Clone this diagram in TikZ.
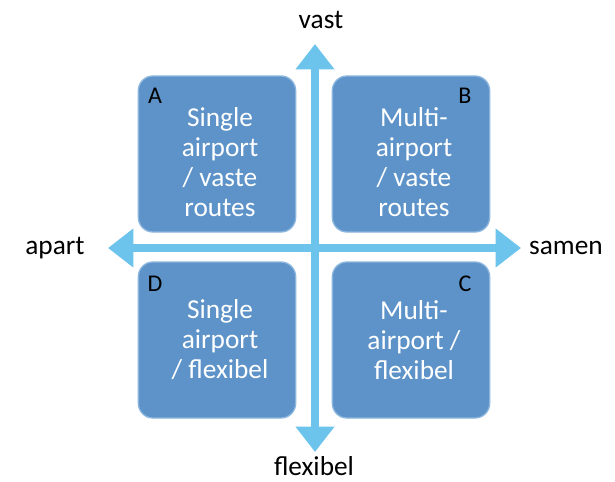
\documentclass[tikz,border=0pt]{standalone}
\usepackage{fontspec}
\setmainfont{Carlito}
\usetikzlibrary{arrows.meta}

\definecolor{boxblue}{HTML}{5D93C8}
\definecolor{boxedge}{HTML}{8CB6DE}
\definecolor{axisblue}{HTML}{6CC3EC}

\tikzset{
	quad/.style={draw=boxedge, line width=1pt, fill=boxblue, rounded corners=11pt,
		minimum width=118pt, minimum height=117pt, inner sep=0pt},
	quadtext/.style={text=white, align=center, font=\fontsize{20.5}{22.5}\selectfont},
	corner/.style={text=black, font=\fontsize{18}{20}\selectfont},
	axislabel/.style={text=black, font=\fontsize{20.5}{22.5}\selectfont},
	axis/.style={axisblue, line width=6pt, -{Triangle[width=28pt,length=19pt]}}
}

\begin{document}
\begin{tikzpicture}[x=0.75pt,y=-0.75pt]
	\useasboundingbox (0,0) rectangle (615,482);
	% the four boxes
	\node[quad] (boxA) at (217,154){};
	\node[quad] (boxB) at (411,154){};
	\node[quad] (boxD) at (217,340){};
	\node[quad] (boxC) at (411,340){};
	% their texts
	\node[quadtext] (txtA) at (220,162){Single\\airport\\/ vaste\\routes};
	\node[quadtext] (txtB) at (414,162){Multi-\\airport\\/ vaste\\routes};
	\node[quadtext] (txtD) at (220,340){Single\\airport\\/ flexibel};
	\node[quadtext] (txtC) at (414,340){Multi-\\airport /\\flexibel};
	\node[corner] (lblA) at (155,96){A};
	\node[corner] (lblB) at (465,96){B};
	\node[corner] (lblD) at (155,284){D};
	\node[corner] (lblC) at (465,284){C};
	% axes
	\coordinate (mid) at (315,248);
	\coordinate (top) at (315,44);
	\coordinate (bottom) at (315,452);
	\coordinate (left) at (108,248);
	\coordinate (right) at (521,248);
	\draw[axis] (mid) -- (top);
	\draw[axis] (mid) -- (bottom);
	\draw[axis] (mid) -- (left);
	\draw[axis] (mid) -- (right);
	\node[axislabel] (vast) at (321,20){vast};
	\node[axislabel] (flexibel) at (314,466){flexibel};
	\node[axislabel] (apart) at (55,248){apart};
	\node[axislabel] (samen) at (566,248){samen};
\end{tikzpicture}
\end{document}
